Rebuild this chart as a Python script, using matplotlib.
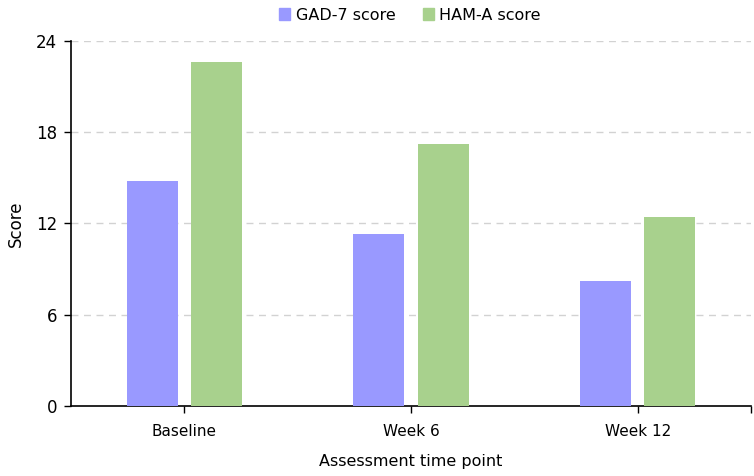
import matplotlib
matplotlib.use("Agg")
import matplotlib.pyplot as plt
import numpy as np
from matplotlib.patches import Patch

categories = ["Baseline", "Week 6", "Week 12"]
gad7 = [14.8, 11.3, 8.2]
hama = [22.6, 17.2, 12.4]
series_names = ["GAD-7 score", "HAM-A score"]
yticks = [0, 6, 12, 18, 24]

plt.rcParams['font.family'] = ['DejaVu Sans']
W, H = 754, 476
fig = plt.figure(figsize=(W/100, H/100), dpi=100)
ax = fig.add_axes([71/W, 1-406/H, (751-71)/W, (406-41)/H])

x = np.arange(len(categories))
bw = 0.225
off = 0.142
c1, c2 = "#9999FF", "#A8D18D"
ax.bar(x - off, gad7, bw, color=c1, zorder=3)
ax.bar(x + off, hama, bw, color=c2, zorder=3)

ax.set_xlim(-0.5, 2.5)
ax.set_ylim(0, 24)
ax.set_yticks(yticks)
ax.set_xticks(x)
ax.set_xticklabels(categories)
ax.set_xticks([2.5], minor=True)
ax.tick_params(axis='x', which='minor', length=5, width=1, color='black')
ax.tick_params(axis='both', length=5, width=1)
ax.tick_params(axis='x', labelsize=11, pad=8)
ax.tick_params(axis='y', labelsize=12, pad=5)
for t in yticks[1:]:
    ax.axhline(t, color='#d2d2d2', lw=1, ls=(0, (5, 4)), zorder=1)
for s in ['top', 'right']:
    ax.spines[s].set_visible(False)
for s in ['left', 'bottom']:
    ax.spines[s].set_linewidth(1.2)
ax.set_ylabel("Score", fontsize=12, labelpad=8)
ax.set_xlabel("Assessment time point", fontsize=11.5, labelpad=11)

handles = [Patch(color=c1), Patch(color=c2)]
fig.legend(handles, series_names, loc='center', bbox_to_anchor=(410/W, 1-15/H),
           ncol=2, frameon=False, fontsize=11.5, handlelength=0.7, handleheight=0.7,
           columnspacing=1.7, handletextpad=0.35)

fig.savefig("out.png", dpi=100)
